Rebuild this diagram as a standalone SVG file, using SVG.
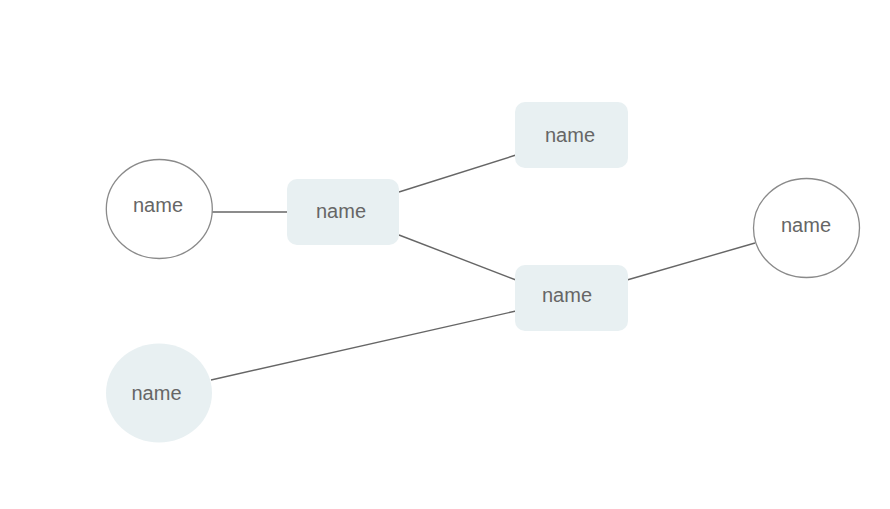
<svg xmlns="http://www.w3.org/2000/svg" width="890" height="509" viewBox="0 0 890 509">
<style>
.bg{fill:#ffffff}
.edge{stroke:#666666;stroke-width:1.4;fill:none}
.rect{fill:#e8f0f2;stroke:none}
.circ{fill:#ffffff;stroke:#8a8a8a;stroke-width:1.3}
.circf{fill:#e8f0f2;stroke:none}
.lbl{font-family:"Liberation Sans",Arial,sans-serif;font-size:20px;fill:#666666;text-anchor:middle}
</style>
<rect class="bg" x="0" y="0" width="890" height="509"/>
<g id="connectors">
<line class="edge" x1="212" y1="212" x2="288" y2="212"/>
<line class="edge" x1="399" y1="192" x2="516" y2="155"/>
<line class="edge" x1="399" y1="235" x2="516" y2="280"/>
<line class="edge" x1="627" y1="280" x2="755" y2="243"/>
<line class="edge" x1="211" y1="380" x2="516" y2="311"/>
</g>
<g id="node-circle-left">
<ellipse class="circ" cx="159.3" cy="209" rx="53" ry="49.5"/>
<text class="lbl" x="158" y="212">name</text>
</g>
<g id="node-rect-1">
<rect class="rect" x="287" y="179" width="112" height="66" rx="10"/>
<text class="lbl" x="341" y="218">name</text>
</g>
<g id="node-rect-2">
<rect class="rect" x="515" y="102" width="113" height="66" rx="10"/>
<text class="lbl" x="570" y="142">name</text>
</g>
<g id="node-rect-3">
<rect class="rect" x="515" y="265" width="113" height="66" rx="10"/>
<text class="lbl" x="567" y="302">name</text>
</g>
<g id="node-circle-right">
<ellipse class="circ" cx="806.5" cy="228" rx="53" ry="49.5"/>
<text class="lbl" x="806" y="232">name</text>
</g>
<g id="node-circle-bottom">
<ellipse class="circf" cx="159" cy="393" rx="53" ry="49.5"/>
<text class="lbl" x="156.5" y="400">name</text>
</g>
</svg>
